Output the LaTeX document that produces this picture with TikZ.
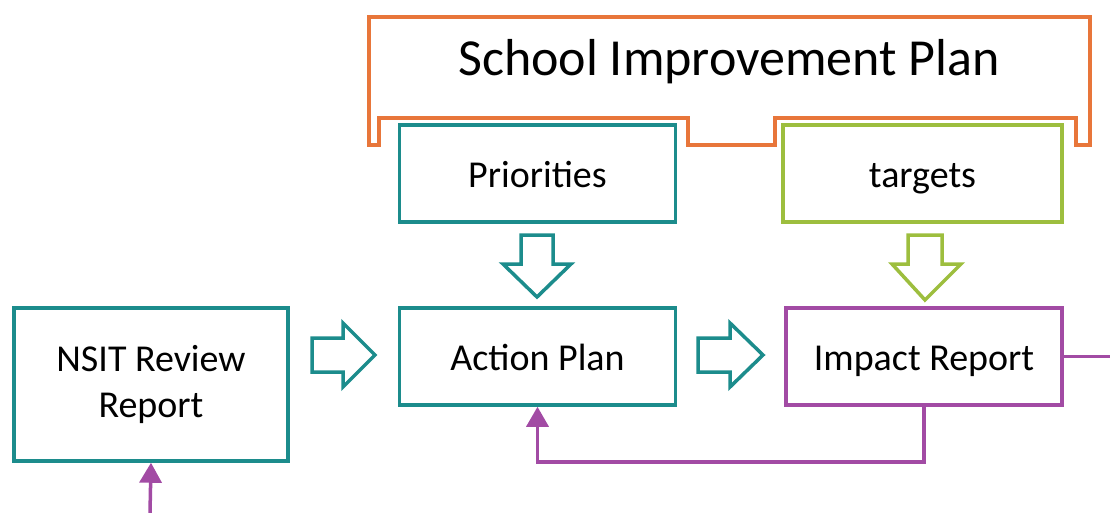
\documentclass[tikz,border=0pt]{standalone}
\usepackage{fontspec}
\setmainfont{Carlito}
\usetikzlibrary{arrows.meta}

\definecolor{sipteal}{HTML}{1C8C8C}
\definecolor{sipgreen}{HTML}{9DBE3E}
\definecolor{sippurple}{HTML}{A24BA4}
\definecolor{siporange}{HTML}{E8763A}

\tikzset{
	box/.style = {draw, line width = 3.5pt, fill = white, text = black, minimum width = 276pt, minimum height = 97pt, font = \fontsize{38}{46}\selectfont, align = center},
	oneline/.style = {text height = 27pt, text depth = 0pt},
	blockarrow/.style = {line width = 3.5pt, fill = white, line join = miter},
	link/.style = {draw = sippurple, line width = 3.5pt, -{Triangle[width = 22pt, length = 20pt, fill = sippurple]}}
}

\begin{document}
\begin{tikzpicture}[x = 1pt, y = -1pt]
	\useasboundingbox (0, 0) rectangle (1110, 513);
	
	% school improvement plan bracket
	\draw[siporange, line width = 4pt, line join = miter]
	(369, 145) -- (369, 17) -- (1090, 17) -- (1090, 145) -- (1076, 145)
	-- (1076, 118) -- (775, 118) -- (775, 145) -- (688, 145) -- (688, 118)
	-- (379, 118) -- (379, 145) -- cycle;
	\node[font = \fontsize{52}{60}\selectfont] (sip) at (729, 62) {School Improvement Plan};
	
	\node[box, oneline, draw = sipteal] (priorities) at (537.5, 173.5) {Priorities};
	\node[box, oneline, draw = sipgreen, minimum width = 279pt] (targets) at (922.5, 173.5) {targets};
	\node[box, oneline, draw = sipteal] (action) at (537.5, 356.5) {Action Plan};
	\node[box, oneline, draw = sippurple] (impact) at (924, 356.5) {Impact Report};
	\node[box, draw = sipteal, minimum width = 274pt, minimum height = 153pt] (nsit) at (151, 384.5) {NSIT Review\\Report};
	
	% block arrows
	\draw[blockarrow, draw = sipteal] (521, 235) -- (553, 235) -- (553, 264) -- (571, 264)
	-- (537, 297) -- (503, 264) -- (521, 264) -- cycle;
	\draw[blockarrow, draw = sipgreen] (908, 235) -- (942, 235) -- (942, 264) -- (961, 264)
	-- (925, 300) -- (892, 264) -- (908, 264) -- cycle;
	\draw[blockarrow, draw = sipteal] (312, 338) -- (343, 338) -- (343, 323) -- (375, 355)
	-- (343, 387) -- (343, 372) -- (312, 372) -- cycle;
	\draw[blockarrow, draw = sipteal] (698, 338) -- (730, 338) -- (730, 323) -- (763, 355)
	-- (730, 387) -- (730, 372) -- (698, 372) -- cycle;
	
	% links
	\coordinate (outright) at (1110, 356.5);
	\coordinate (outbottom) at (150, 513);
	\draw[sippurple, line width = 3.5pt] (impact.east) -- (outright);
	\draw[link] (impact.south) -- ++(0, 55) -| (action.south);
	\draw[link] (outbottom) -- (nsit.south);
\end{tikzpicture}
\end{document}
